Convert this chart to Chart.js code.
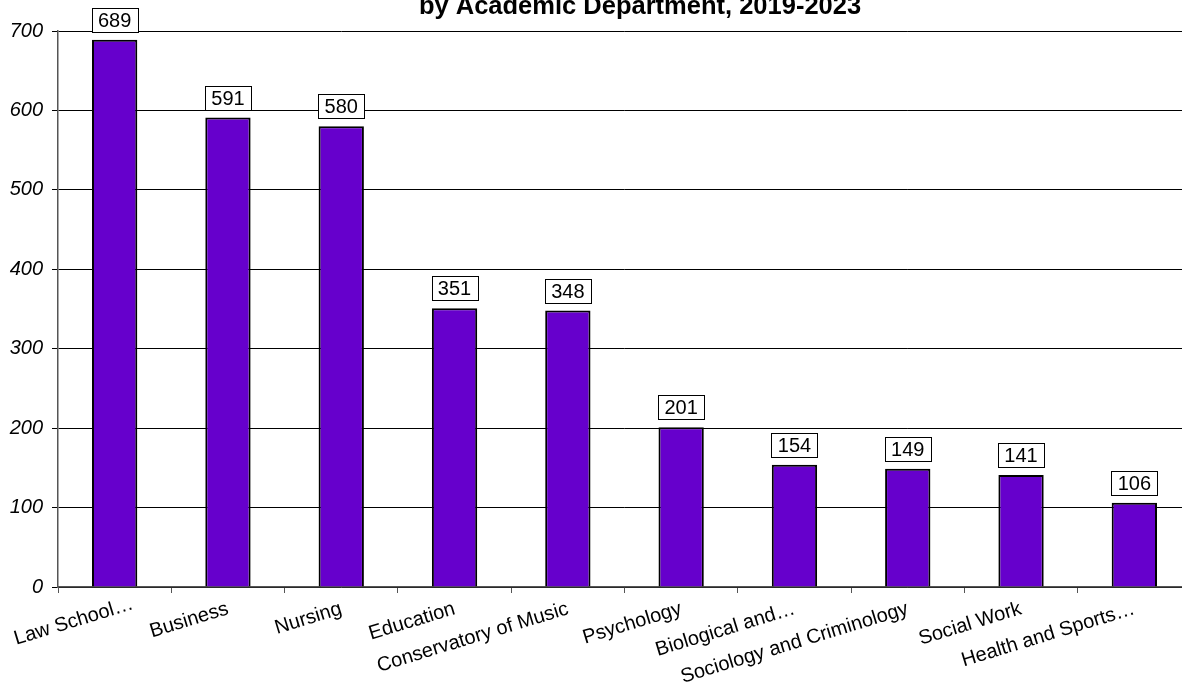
<!DOCTYPE html>
<html>
<head>
<meta charset="utf-8">
<script src="https://cdn.jsdelivr.net/npm/chart.js@4/dist/chart.umd.min.js"></script>
<style>
  html, body { margin: 0; padding: 0; background: #fff; overflow: hidden; width: 1182px; height: 692px; }
  #wrap { position: absolute; left: 0; top: -9px; width: 1280px; height: 701px; }
</style>
</head>
<body>
<div id="wrap"><canvas id="c"></canvas></div>
<script>
const titleText = 'by Academic Department, 2019-2023';
const categories = ['Law School\u2026', 'Business', 'Nursing', 'Education', 'Conservatory of Music',
  'Psychology', 'Biological and\u2026', 'Sociology and Criminology', 'Social Work', 'Health and Sports\u2026'];
const values = [689, 591, 580, 351, 348, 201, 154, 149, 141, 106];
const yMin = 0, yMax = 700, yStep = 100;

const FONT = "'Liberation Sans', Arial, sans-serif";

const boxLabels = {
  id: 'boxLabels',
  afterDatasetsDraw(chart) {
    const ctx = chart.ctx;
    const meta = chart.getDatasetMeta(0);
    ctx.save();
    ctx.font = '20px ' + FONT;
    ctx.textAlign = 'center';
    ctx.textBaseline = 'middle';
    meta.data.forEach((bar, i) => {
      const txt = String(values[i]);
      const w = Math.round(ctx.measureText(txt).width + 13);
      const h = 24;
      const bottom = bar.y - 8;
      const left = Math.round(bar.x - w / 2) + 0.5;
      const top = Math.round(bottom - h) + 0.5;
      ctx.fillStyle = '#fff';
      ctx.fillRect(left, top, w, h);
      ctx.strokeStyle = '#000';
      ctx.lineWidth = 1;
      ctx.strokeRect(left, top, w, h);
      ctx.fillStyle = '#000';
      ctx.fillText(txt, bar.x, top + h / 2 + 1);
    });
    ctx.restore();
  }
};

// keep the first rotated category label inside the canvas (as the original does)
const nudgeFirstLabel = {
  id: 'nudgeFirstLabel',
  beforeDraw(chart) {
    const s = chart.scales.x;
    const items = s.getLabelItems();
    if (items.length && !items[0]._nudged) {
      items[0].options.translation[0] += 18;
      items[0].options.translation[1] -= 5;
      items[0]._nudged = true;
    }
  }
};

new Chart(document.getElementById('c'), {
  type: 'bar',
  data: {
    labels: categories,
    datasets: [{
      data: values,
      backgroundColor: '#6600CC',
      borderColor: '#000',
      borderWidth: 2,
      barPercentage: 0.4,
      categoryPercentage: 1.0
    }]
  },
  options: {
    responsive: true,
    maintainAspectRatio: false,
    animation: false,
    layout: { padding: 0 },
    plugins: {
      legend: { display: false },
      tooltip: { enabled: false },
      title: {
        display: true,
        text: titleText,
        color: '#000',
        font: { family: FONT, size: 25.5, weight: 'bold', lineHeight: 1.2 },
        padding: { top: 1, bottom: 8.4 }
      }
    },
    scales: {
      x: {
        offset: true,
        grid: { display: true, drawOnChartArea: false, drawTicks: true, tickLength: 6, color: '#555', offset: true },
        border: { display: true, color: '#555', width: 1.5 },
        ticks: {
          color: '#000',
          font: { family: FONT, size: 20 },
          minRotation: 17, maxRotation: 17,
          autoSkip: false,
          padding: 4
        },
        afterFit(s) { s.height = 105; s.paddingLeft = 0; s.paddingRight = 0; }
      },
      y: {
        min: yMin, max: yMax,
        grid: { color: '#000', lineWidth: 1, drawTicks: true, tickLength: 6 },
        border: { display: true, color: '#555', width: 1.5 },
        ticks: {
          stepSize: yStep,
          color: '#000',
          font: { family: FONT, size: 20, style: 'italic' },
          padding: 9
        },
        afterFit(s) { s.width = 58; s.paddingTop = 0; s.paddingBottom = 0; }
      },
      y2: {
        position: 'right',
        display: true,
        grid: { display: false, drawTicks: false },
        border: { display: false },
        ticks: { display: false },
        afterFit(s) { s.width = 89; s.paddingTop = 0; s.paddingBottom = 0; }
      }
    }
  },
  plugins: [boxLabels, nudgeFirstLabel]
});
</script>
</body>
</html>
